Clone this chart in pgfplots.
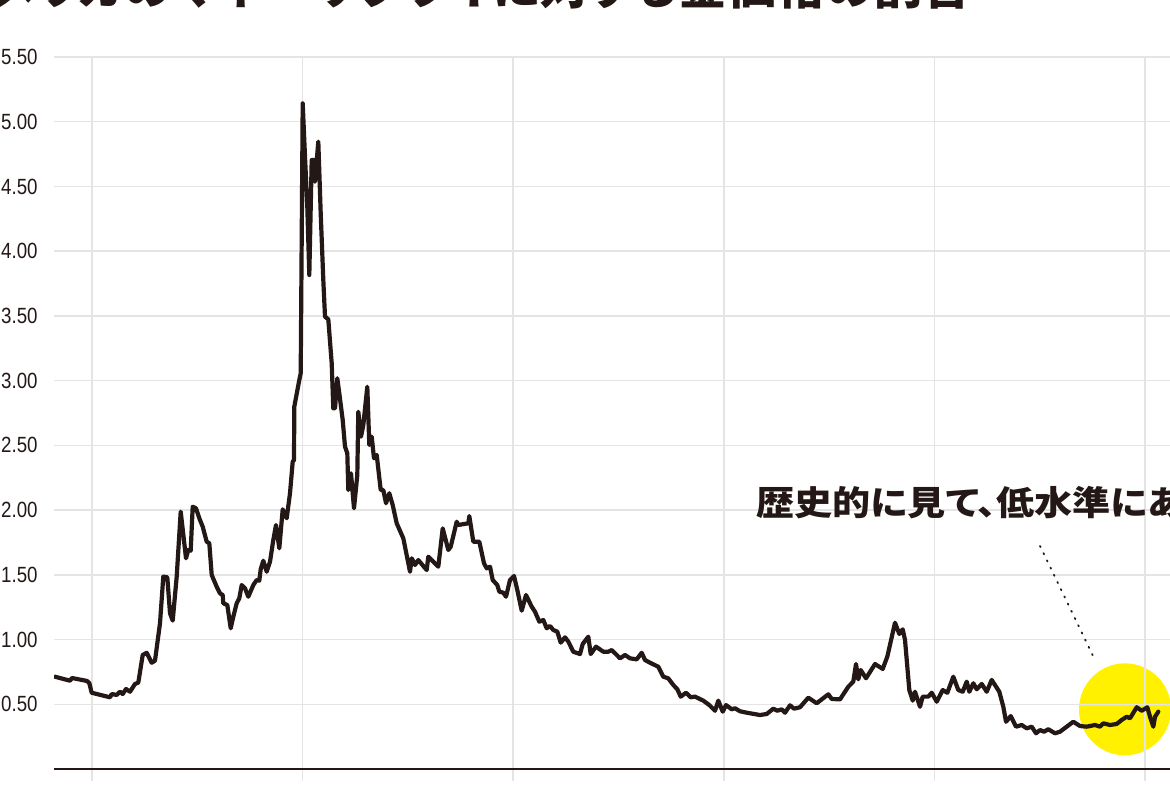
\documentclass[border=0pt]{standalone}
\usepackage{pgfplots}
\pgfplotsset{compat=1.18}
\usepackage{fontspec}
\setmainfont{Liberation Sans}
\newfontfamily\tickfont[FakeStretch=0.85]{Liberation Sans}
\newfontfamily\jp[RawFeature=+palt]{Noto Sans CJK JP}
\newfontfamily\jpnote[RawFeature=+palt,FakeStretch=1.12]{Noto Sans CJK JP}
\definecolor{ink}{RGB}{35,24,21}
\definecolor{gridgray}{RGB}{228,228,228}
\definecolor{hilite}{RGB}{255,241,0}

% ratio of gold price to US money supply, x in picture columns
\pgfplotstableread{
x v
55 0.713
70 0.682
72 0.703
87 0.680
89.3 0.664
91.7 0.589
110 0.554
111.7 0.579
116.7 0.572
120 0.597
122.7 0.579
126 0.618
130 0.597
135 0.657
138.3 0.667
142.7 0.881
146.7 0.898
151.7 0.821
155 0.837
160 1.126
163.3 1.486
167.3 1.481
170 1.203
172.7 1.146
176.7 1.486
180.7 1.988
186 1.628
188.3 1.692
190.7 1.686
192.7 2.026
196 2.014
199.3 1.937
202.7 1.872
206.7 1.756
209.3 1.744
211.7 1.499
216.7 1.408
220 1.357
222.7 1.344
223.3 1.280
227.3 1.267
230.7 1.087
233.3 1.177
236.7 1.280
239.3 1.319
241.7 1.421
245 1.396
248.3 1.331
253.3 1.421
256.7 1.460
259.3 1.455
260.7 1.543
263.3 1.609
266.7 1.524
270 1.601
273.3 1.769
276 1.885
279.3 1.705
282.7 2.006
286.7 1.937
290 2.130
292.7 2.374
294 2.387
294.3 2.799
299.3 3.005
300.7 3.057
302.7 5.142
305 4.730
307.3 4.344
309.3 3.816
311.7 4.704
314 4.704
315 4.537
318.3 4.846
320.7 4.293
323.3 3.778
325 3.494
328.3 3.474
331.7 3.134
333.3 2.786
335 2.786
337.3 3.018
339.3 2.902
342.7 2.696
345 2.490
347.3 2.439
348.3 2.155
351 2.284
354 2.014
357.3 2.271
358.3 2.760
361 2.567
363.3 2.657
367.3 2.953
369.3 2.503
371.7 2.567
374 2.400
376.7 2.426
380.7 2.155
383.3 2.155
386 2.053
389.3 2.130
392.7 2.039
396.7 1.898
403.3 1.782
410 1.524
411.7 1.628
415 1.576
418.3 1.614
426.7 1.537
428.3 1.640
438.3 1.563
442.7 1.859
448.3 1.692
450.7 1.717
456.7 1.910
458.3 1.885
468.3 1.898
469.3 1.954
473.3 1.756
479.3 1.756
484 1.589
486.7 1.550
490 1.563
492.7 1.460
497.3 1.421
499.3 1.370
503.3 1.362
506 1.331
510 1.460
514 1.491
517.3 1.383
521.7 1.223
526 1.344
531.7 1.254
535 1.215
539.3 1.138
543.3 1.151
546.7 1.087
550 1.105
553.3 1.074
557.3 1.061
560.7 0.976
565 1.017
568.3 0.984
573.3 0.906
580 0.888
582.7 0.966
588.3 1.022
590.7 0.888
596 0.945
603.3 0.906
608.3 0.906
611.7 0.919
616.7 0.881
620 0.855
625 0.881
630 0.855
636.7 0.847
641.7 0.898
645 0.842
650 0.821
658.3 0.790
663.3 0.713
668.3 0.700
673.3 0.649
677.3 0.616
680.7 0.559
686 0.589
690.7 0.554
695 0.559
703.3 0.528
709.3 0.494
715 0.450
718.3 0.528
722.7 0.443
726 0.494
731.7 0.461
735 0.469
740 0.446
746.7 0.435
760 0.417
766.7 0.425
773.3 0.466
777.3 0.450
781.7 0.461
785 0.435
790 0.492
794 0.466
800 0.477
808.3 0.551
816.7 0.508
828.3 0.577
831.7 0.541
840 0.538
848.3 0.636
853.3 0.675
856 0.811
858.3 0.693
860.7 0.765
866 0.701
875 0.811
882.7 0.773
887.3 0.868
895 1.130
899.3 1.043
902.7 1.079
905 0.997
909.3 0.610
912.7 0.528
915 0.597
920 0.481
922.7 0.559
928.3 0.559
931.7 0.589
936.7 0.520
942.7 0.610
947.3 0.589
953.3 0.713
958.3 0.610
962.7 0.597
966.7 0.675
969.3 0.597
973.3 0.662
976.7 0.616
981.7 0.657
986.7 0.597
991.7 0.688
999.3 0.597
1003.3 0.481
1006 0.365
1010.7 0.409
1016 0.327
1021.7 0.340
1026.7 0.314
1031.7 0.327
1036 0.276
1040 0.301
1044 0.288
1048.3 0.307
1055 0.276
1060 0.288
1066.7 0.327
1073.3 0.365
1080 0.332
1086.7 0.327
1095 0.340
1100 0.327
1103.3 0.353
1110 0.340
1116.7 0.348
1121.7 0.379
1126.7 0.404
1130 0.392
1136.7 0.477
1141.7 0.450
1147.3 0.477
1150 0.404
1153.3 0.327
1155 0.404
1158.3 0.443
}\ratio

\begin{document}
\begin{tikzpicture}
\begin{axis}[
  set layers,
  scale only axis, width=558pt, height=356pt,
  xmin=54, xmax=1170, ymin=0, ymax=5.5,
  axis x line*=bottom, axis y line*=left,
  x axis line style={draw=ink, line width=1.4pt},
  y axis line style={draw=none},
  xtick={92,302.6,513.2,723.8,934.4,1145}, xticklabels={},
  ytick={0.5,1,1.5,2,2.5,3,3.5,4,4.5,5,5.5},
  grid=major, grid style={draw=gridgray, line width=0.75pt},
  xtick style={draw=gridgray, line width=0.75pt},
  major tick length=6pt, tick align=outside,
  ytick style={draw=none},
  yticklabel style={anchor=east, inner sep=0pt, xshift=-2pt,
    font=\tickfont\fontsize{11}{13}\selectfont, text=ink,
    /pgf/number format/.cd, fixed, fixed zerofill, precision=2,
    assume math mode=true},
]
\begin{pgfonlayer}{axis background}
  \fill[hilite] (axis cs:1125,0.461) circle[radius=23pt];
\end{pgfonlayer}
\draw[ink, line width=0.9pt, dash pattern=on 0.6pt off 3.4pt, line cap=round]
  (axis cs:1040,1.723) -- (axis cs:1095,0.842);
\addplot[ink, line width=2.1pt, line join=round, line cap=round] table[x=x, y=v] {\ratio};
\end{axis}
\node[anchor=base east, inner sep=0pt, text=ink,
  font=\jp\bfseries\fontsize{24.5}{28}\selectfont] at (459pt,382.2pt)
  {アメリカのマネーサプライに対する金価格の割合};
\node[anchor=base west, inner sep=0pt, text=ink,
  font=\jpnote\bfseries\fontsize{17}{20}\selectfont] at (351.2pt,126.7pt)
  {歴史的に見て、低水準にある};
\pgfresetboundingbox
\path[use as bounding box] (-27pt,-9.5pt) rectangle (558pt,384.5pt);
\end{tikzpicture}
\end{document}
